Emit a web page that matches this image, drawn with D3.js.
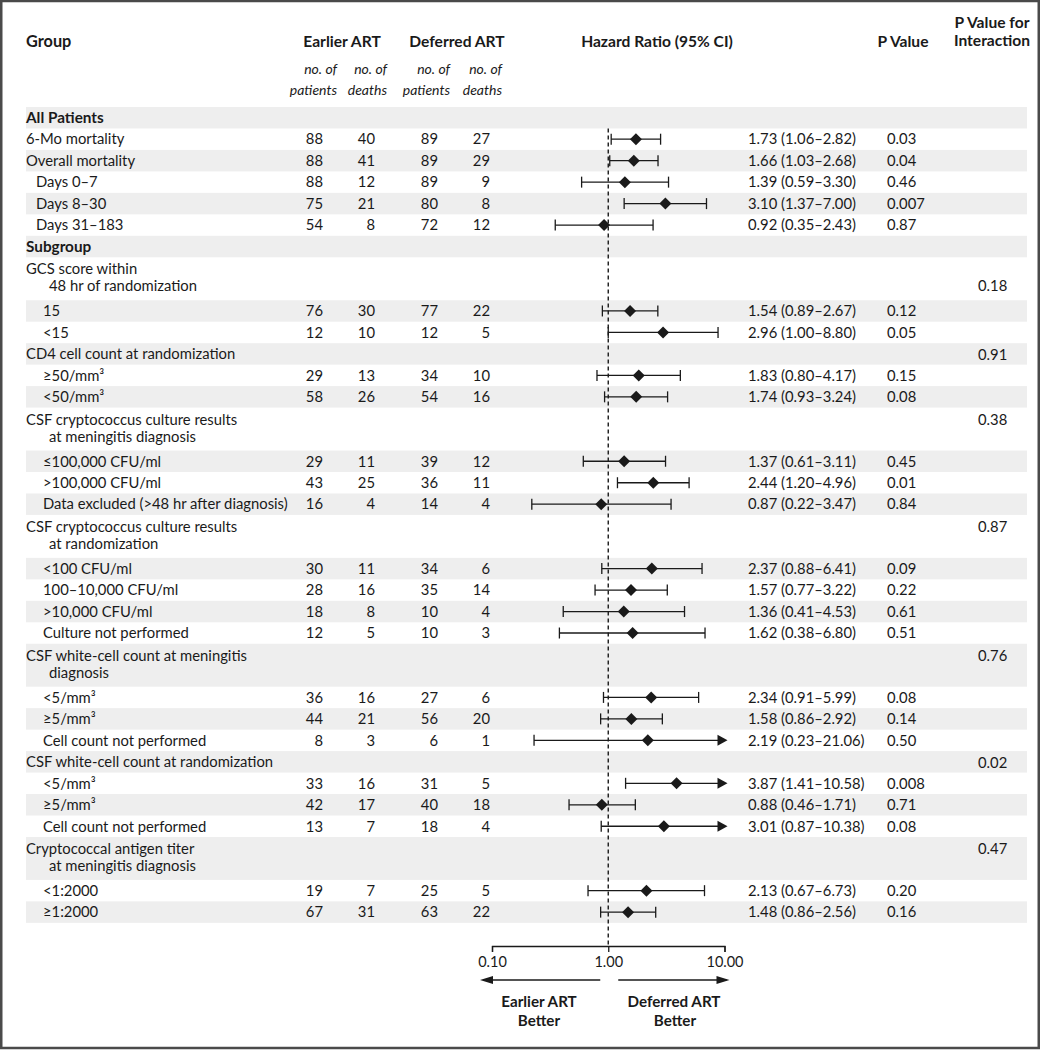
<!DOCTYPE html>
<html><head><meta charset="utf-8">
<script src="https://cdn.jsdelivr.net/npm/d3@7"></script>
<style>
body{margin:0;background:#fff}
text{font-family:Lato,"Open Sans",sans-serif;fill:#1a1a1a;font-size:14.8px}
</style>
</head><body><svg id="c" width="1041" height="1050"></svg>
<script>
// ---- data ----
const rowKinds = ["head","row","row","row","row","row","head","group","row","row","group","row","row","group","row","row","row","group","row","row","row","row","group","row","row","row","group","row","row","row","group","row","row"];
const labels = ["All Patients","6-Mo mortality","Overall mortality","Days 0–7","Days 8–30","Days 31–183","Subgroup",
  "GCS score within\n48 hr of randomization","15","<15",
  "CD4 cell count at randomization","≥50/mm³","<50/mm³",
  "CSF cryptococcus culture results\nat meningitis diagnosis","≤100,000 CFU/ml",">100,000 CFU/ml","Data excluded (>48 hr after diagnosis)",
  "CSF cryptococcus culture results\nat randomization","<100 CFU/ml","100–10,000 CFU/ml",">10,000 CFU/ml","Culture not performed",
  "CSF white-cell count at meningitis\ndiagnosis","<5/mm³","≥5/mm³","Cell count not performed",
  "CSF white-cell count at randomization","<5/mm³","≥5/mm³","Cell count not performed",
  "Cryptococcal antigen titer\nat meningitis diagnosis","<1:2000","≥1:2000"];
const indentLevel = [0,0,0,1,1,1,0, 0,2,2, 0,2,2, 0,2,2,2, 0,2,2,2,2, 0,2,2,2, 0,2,2,2, 0,2,2];
const earlierPatients = [null,88,88,88,75,54,null,null,76,12,null,29,58,null,29,43,16,null,30,28,18,12,null,36,44,8,null,33,42,13,null,19,67];
const earlierDeaths   = [null,40,41,12,21,8,null,null,30,10,null,13,26,null,11,25,4,null,11,16,8,5,null,16,21,3,null,16,17,7,null,7,31];
const deferredPatients= [null,89,89,89,80,72,null,null,77,12,null,34,54,null,39,36,14,null,34,35,10,10,null,27,56,6,null,31,40,18,null,25,63];
const deferredDeaths  = [null,27,29,9,8,12,null,null,22,5,null,10,16,null,12,11,4,null,6,14,4,3,null,6,20,1,null,5,18,4,null,5,22];
const hazardRatio = [null,1.73,1.66,1.39,3.10,0.92,null,null,1.54,2.96,null,1.83,1.74,null,1.37,2.44,0.87,null,2.37,1.57,1.36,1.62,null,2.34,1.58,2.19,null,3.87,0.88,3.01,null,2.13,1.48];
const ciLower = [null,1.06,1.03,0.59,1.37,0.35,null,null,0.89,1.00,null,0.80,0.93,null,0.61,1.20,0.22,null,0.88,0.77,0.41,0.38,null,0.91,0.86,0.23,null,1.41,0.46,0.87,null,0.67,0.86];
const ciUpper = [null,2.82,2.68,3.30,7.00,2.43,null,null,2.67,8.80,null,4.17,3.24,null,3.11,4.96,3.47,null,6.41,3.22,4.53,6.80,null,5.99,2.92,21.06,null,10.58,1.71,10.38,null,6.73,2.56];
const pValues = [null,"0.03","0.04","0.46","0.007","0.87",null,null,"0.12","0.05",null,"0.15","0.08",null,"0.45","0.01","0.84",null,"0.09","0.22","0.61","0.51",null,"0.08","0.14","0.50",null,"0.008","0.71","0.08",null,"0.20","0.16"];
const pInteraction = [null,null,null,null,null,null,null,"0.18",null,null,"0.91",null,null,"0.38",null,null,null,"0.87",null,null,null,null,"0.76",null,null,null,"0.02",null,null,null,"0.47",null,null];
const pInteractionLine = [0,0,0,0,0,0,0,1,0,0,0,0,0,0,0,0,0,0,0,0,0,0,0,0,0,0,0,0,0,0,0,0,0];
const tickValues = [0.1,1,10];
const tickLabels = ["0.10","1.00","10.00"];

// ---- layout ----
const svg = d3.select("#c");
const rowH = 21.47, top0 = 107;
const x = d3.scaleLog().domain([0.1,10]).range([492,724.5]);
const indentX = [26,36,43];
const ink = "#1a1a1a";

svg.append("rect").attr("x",1.25).attr("y",1).attr("width",1037.5).attr("height",1047)
  .attr("fill","#fff").attr("stroke","#4a4a4a").attr("stroke-width",2.5);

let tops = [], heights = [], y = top0;
labels.forEach((l,i)=>{ const n = l.split("\n").length; tops.push(y); heights.push(n*rowH); y += n*rowH; });

const gBg = svg.append("g");
labels.forEach((l,i)=>{ if(i%2===0) gBg.append("rect").attr("x",26).attr("y",tops[i]).attr("width",1001).attr("height",heights[i]).attr("fill","#eeeeee"); });

// headers
const hdr = svg.append("g");
hdr.append("text").attr("x",26).attr("y",47).style("font-weight","bold").style("font-size","16.3px").text("Group");
[["Earlier ART",342,47],["Deferred ART",457,47],["Hazard Ratio (95% CI)",657,47],["P Value",903,47],["P Value for",992,28],["Interaction",992,46]]
  .forEach(d=>hdr.append("text").attr("x",d[1]).attr("y",d[2]).attr("text-anchor","middle").style("font-weight","bold").style("font-size","15.6px").text(d[0]));
const sub = svg.append("g");
[[337,"no. of","patients"],[387,"no. of","deaths"],[450,"no. of","patients"],[502,"no. of","deaths"]].forEach(d=>{
  sub.append("text").attr("x",d[0]).attr("y",74).attr("text-anchor","end").style("font-style","italic").style("font-size","14px").text(d[1]);
  sub.append("text").attr("x",d[0]).attr("y",95).attr("text-anchor","end").style("font-style","italic").style("font-size","14px").text(d[2]);
});

// rows text
const body = svg.append("g");
const numCols = [[earlierPatients,323],[earlierDeaths,375],[deferredPatients,438],[deferredDeaths,490]];
labels.forEach((l,i)=>{
  const lines = l.split("\n");
  const t = tops[i];
  if(lines.length===1){
    const tx = body.append("text").attr("x",indentX[indentLevel[i]]).attr("y",t+16).text(l);
    if(rowKinds[i]==="head") tx.style("font-weight","bold").style("font-size","15.3px");
  } else {
    body.append("text").attr("x",indentX[indentLevel[i]]).attr("y",t+17).text(lines[0]);
    body.append("text").attr("x",49).attr("y",t+34).text(lines[1]);
  }
  numCols.forEach(([arr,cx])=>{ if(arr[i]!=null) body.append("text").attr("x",cx).attr("y",t+16).attr("text-anchor","end").text(arr[i]); });
  if(hazardRatio[i]!=null){
    body.append("text").attr("x",748).attr("y",t+16)
      .text(`${hazardRatio[i].toFixed(2)} (${ciLower[i].toFixed(2)}–${ciUpper[i].toFixed(2)})`);
    body.append("text").attr("x",887).attr("y",t+16).text(pValues[i]);
  }
  if(pInteraction[i]!=null){
    body.append("text").attr("x",978).attr("y",t+(pInteractionLine[i]?34:17)).text(pInteraction[i]);
  }
});

// reference dashed line
svg.append("line").attr("x1",x(1)).attr("x2",x(1)).attr("y1",tops[1]).attr("y2",946)
  .attr("stroke",ink).attr("stroke-width",1.4).attr("stroke-dasharray","4,3");

// CI marks
const marks = svg.append("g");
labels.forEach((l,i)=>{
  if(hazardRatio[i]==null) return;
  const cy = tops[i]+rowH/2;
  const x0 = x(ciLower[i]);
  const over = ciUpper[i] > 10;
  const x1 = over ? x(10)-6 : x(ciUpper[i]);
  marks.append("line").attr("x1",x0).attr("x2",x1).attr("y1",cy).attr("y2",cy).attr("stroke",ink).attr("stroke-width",1.3);
  marks.append("line").attr("x1",x0).attr("x2",x0).attr("y1",cy-5.5).attr("y2",cy+5.5).attr("stroke",ink).attr("stroke-width",1.3);
  if(over){
    const tip = x(10)+3;
    marks.append("path").attr("d",`M${tip-10},${cy-5.5}L${tip},${cy}L${tip-10},${cy+5.5}Z`).attr("fill",ink);
  } else {
    marks.append("line").attr("x1",x1).attr("x2",x1).attr("y1",cy-5.5).attr("y2",cy+5.5).attr("stroke",ink).attr("stroke-width",1.3);
  }
  const hx = x(hazardRatio[i]);
  marks.append("path").attr("d",`M${hx},${cy-6}L${hx+6},${cy}L${hx},${cy+6}L${hx-6},${cy}Z`).attr("fill",ink);
});

// axis
const axis = svg.append("g").attr("transform","translate(0,946)")
  .call(d3.axisBottom(x).tickValues(tickValues).tickFormat((d,i)=>tickLabels[i]).tickSize(6).tickPadding(5));
axis.select(".domain").attr("stroke",ink).attr("stroke-width",1.3);
axis.selectAll(".tick line").attr("stroke",ink).attr("stroke-width",1.3);
axis.selectAll(".tick text").attr("font-family",null).attr("font-size",null).style("font-size","14.5px").attr("fill",ink);

// direction arrows
const ay = 980;
svg.append("line").attr("x1",x(1)-8).attr("x2",x(0.1)-2).attr("y1",ay).attr("y2",ay).attr("stroke",ink).attr("stroke-width",1.4);
svg.append("path").attr("d",`M${x(0.1)-12},${ay}L${x(0.1)+1},${ay-4}L${x(0.1)+1},${ay+4}Z`).attr("fill",ink);
svg.append("line").attr("x1",x(1)+10).attr("x2",x(10)+2).attr("y1",ay).attr("y2",ay).attr("stroke",ink).attr("stroke-width",1.4);
svg.append("path").attr("d",`M${x(10)+5},${ay}L${x(10)-8},${ay-4}L${x(10)-8},${ay+4}Z`).attr("fill",ink);
const lab = svg.append("g");
[["Earlier ART",539,1007],["Better",539,1026],["Deferred ART",674,1007],["Better",675,1026]].forEach(d=>
  lab.append("text").attr("x",d[1]).attr("y",d[2]).attr("text-anchor","middle").style("font-weight","bold").style("font-size","15.2px").text(d[0]));
</script>
</body></html>
